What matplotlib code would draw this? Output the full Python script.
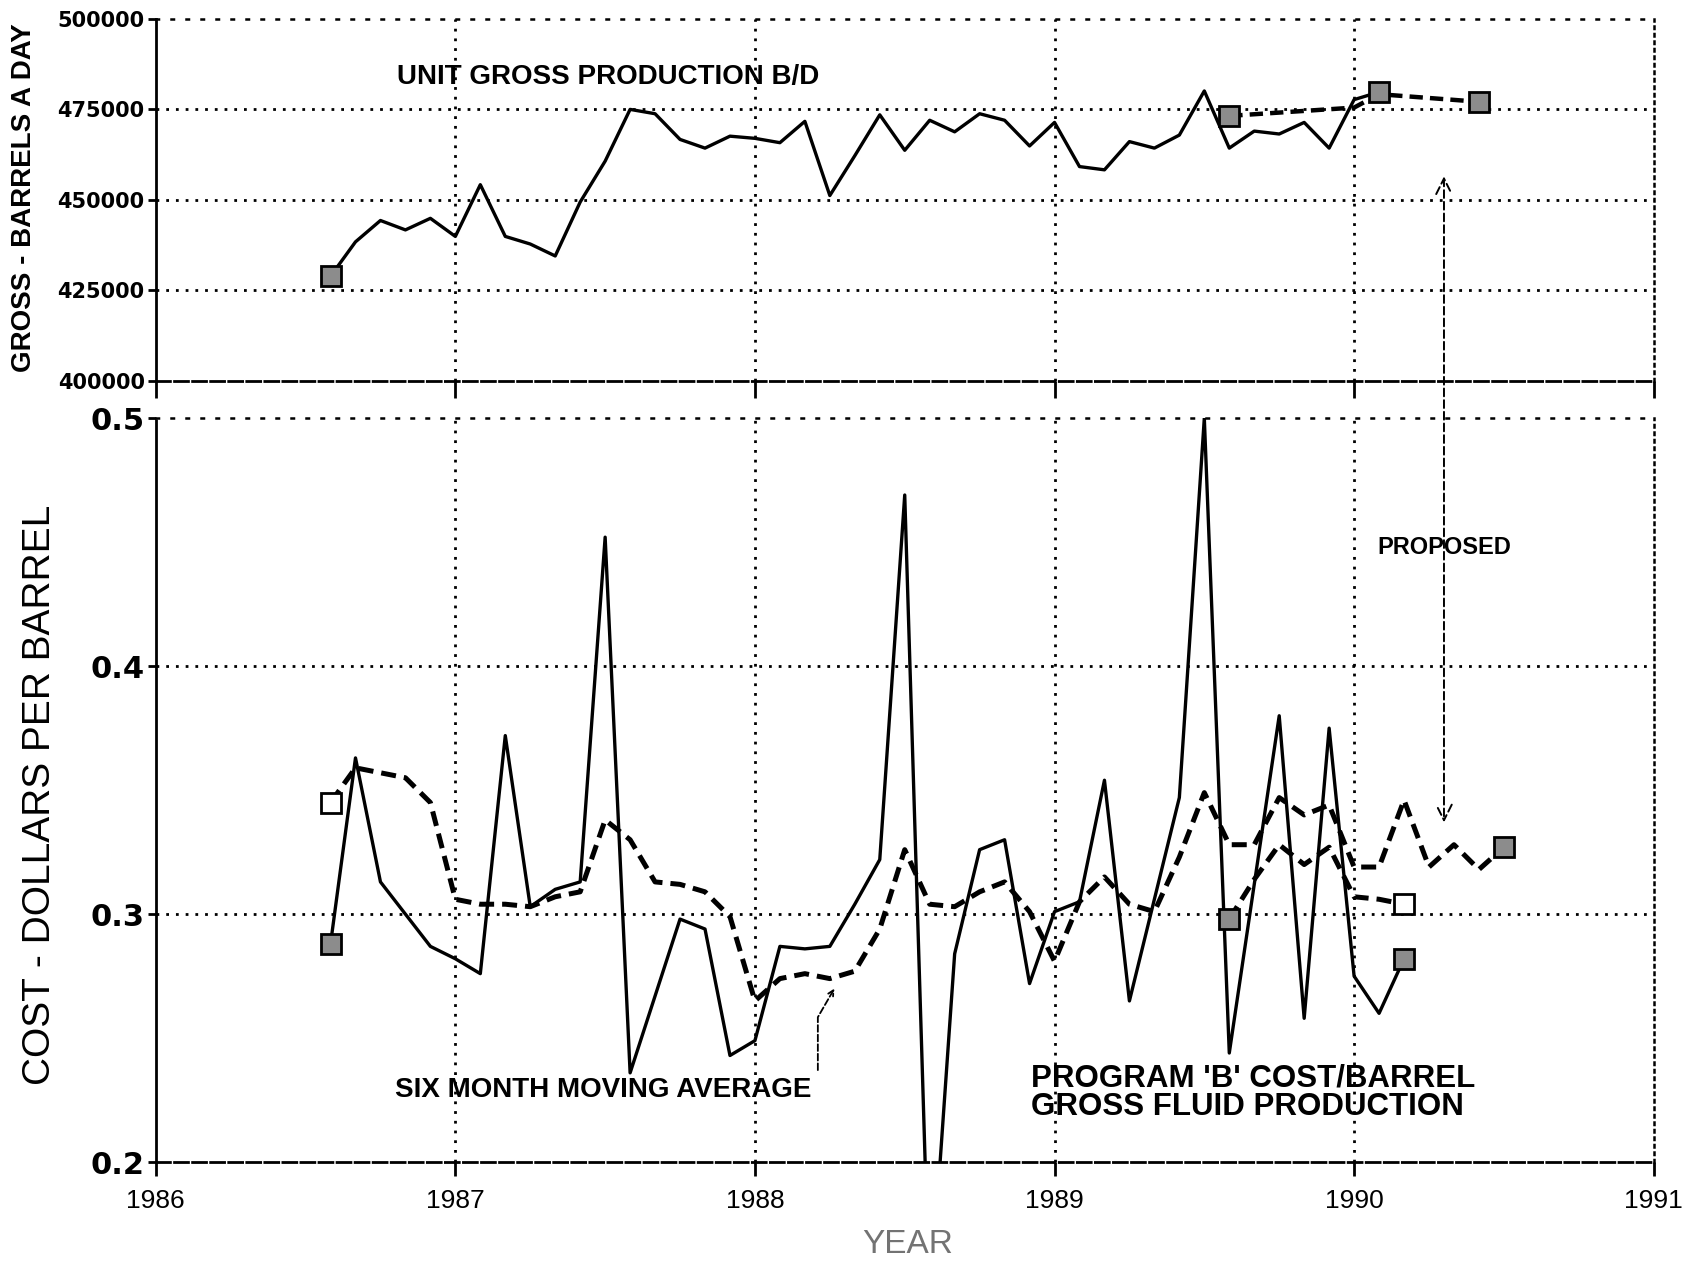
import numpy as np
import pandas as pd
import matplotlib
matplotlib.use("Agg")
import matplotlib.pyplot as plt
from matplotlib.patches import ConnectionPatch

# monthly data, first month Aug 1986
start_month = "1986-08"

gross_bpd = [428900, 438400, 444300, 441700, 444900, 439900, 454200, 439900,
             437800, 434500, 449400, 460700, 475000, 473800, 466700, 464300,
             467600, 467000, 465800, 471700, 451200, 462200, 473500, 463700,
             472000, 468800, 473800, 472000, 464900, 471400, 459200, 458300,
             466100, 464300, 467900, 480100, 464300, 469000, 468200, 471400,
             464300, 477700, 479800]

proposed_gross_idx = [36, 41, 42, 46]
proposed_gross = [473200, 475500, 479200, 477100]

cost_per_bbl = [0.288, 0.363, 0.313, 0.300, 0.287, 0.282, 0.276, 0.372,
                0.303, 0.310, 0.313, 0.452, 0.236, 0.267, 0.298, 0.294,
                0.243, 0.249, 0.287, 0.286, 0.287, 0.304, 0.322, 0.469,
                0.140, 0.284, 0.326, 0.330, 0.272, 0.301, 0.305, 0.354,
                0.265, 0.306, 0.347, 0.500, 0.244, 0.312, 0.380, 0.258,
                0.375, 0.275, 0.260, 0.282]

moving_avg = [0.345, 0.359, 0.357, 0.355, 0.345, 0.306, 0.304, 0.304,
              0.303, 0.307, 0.309, 0.338, 0.330, 0.313, 0.312, 0.309,
              0.299, 0.265, 0.274, 0.276, 0.274, 0.277, 0.294, 0.326,
              0.304, 0.303, 0.309, 0.313, 0.301, 0.281, 0.305, 0.315,
              0.304, 0.301, 0.323, 0.349, 0.328, 0.328, 0.347, 0.340,
              0.344, 0.319, 0.319, 0.346, 0.319, 0.328, 0.318, 0.327]

proposed_cost_idx = [36, 37, 38, 39, 40, 41, 42, 43]
proposed_cost = [0.298, 0.314, 0.328, 0.320, 0.327, 0.307, 0.306, 0.304]

year_ticks = [1986, 1987, 1988, 1989, 1990, 1991]
gross_ticks = [400000, 425000, 450000, 475000, 500000]
cost_ticks = [0.2, 0.3, 0.4, 0.5]


def month_pos(n):
    p = pd.period_range(start_month, periods=n, freq="M")
    return np.asarray(p.year + (p.month - 1) / 12.0)


xm = month_pos(48)

plt.rcParams['font.family'] = ['Liberation Sans', 'DejaVu Sans']

fig = plt.figure(figsize=(16.84, 12.61), dpi=100)
ax1 = fig.add_axes([0.0925, 0.698, 0.8895, 0.287])
ax2 = fig.add_axes([0.0925, 0.0784, 0.8895, 0.590])

dots = (0, (1, 2.5))
dash = (0, (3, 1.6))
sq = dict(marker='s', markersize=15, markeredgecolor='black',
          markeredgewidth=2, linestyle='none', zorder=5)

# ---- top panel: gross production
ax1.plot(xm[:len(gross_bpd)], gross_bpd, color='black', lw=2.4, zorder=3)
ax1.plot(xm[proposed_gross_idx], proposed_gross, color='black', lw=3.2,
         linestyle=dash, zorder=3)
ax1.plot([xm[0], xm[len(gross_bpd) - 1]], [gross_bpd[0], gross_bpd[-1]],
         markerfacecolor='0.55', **sq)
ax1.plot(xm[[proposed_gross_idx[0], proposed_gross_idx[-1]]],
         [proposed_gross[0], proposed_gross[-1]], markerfacecolor='0.55', **sq)

for g in gross_ticks[1:-1]:
    ax1.axhline(g, color='black', lw=2, linestyle=dots, zorder=1)
for yr in year_ticks[1:-1]:
    ax1.axvline(yr, color='black', lw=2, linestyle=dots, zorder=1)

ax1.set_xlim(year_ticks[0], year_ticks[-1])
ax1.set_ylim(gross_ticks[0], gross_ticks[-1])
ax1.set_yticks(gross_ticks)
ax1.set_yticklabels([str(g) for g in gross_ticks], family='DejaVu Sans',
                    fontweight='bold', fontsize=15)
ax1.set_xticks(year_ticks)
ax1.tick_params(axis='x', labelbottom=False, direction='out', length=12,
                width=2)
ax1.tick_params(axis='y', direction='out', length=6, width=2, pad=2)

ax1.text(1986.805, 484000, "UNIT GROSS PRODUCTION B/D", fontsize=20,
         fontweight='bold', va='center', ha='left')

# ---- bottom panel: cost per barrel
ax2.plot(xm[:len(cost_per_bbl)], cost_per_bbl, color='black', lw=2.4,
         zorder=3)
ax2.plot(xm[:len(moving_avg)], moving_avg, color='black', lw=3.6,
         linestyle=dash, zorder=3)
ax2.plot(xm[proposed_cost_idx], proposed_cost, color='black', lw=3.6,
         linestyle=dash, zorder=3)

ax2.plot([xm[0], xm[len(cost_per_bbl) - 1]],
         [cost_per_bbl[0], cost_per_bbl[-1]], markerfacecolor='0.55', **sq)
ax2.plot([xm[0]], [moving_avg[0]], markerfacecolor='white', **sq)
ax2.plot([xm[len(moving_avg) - 1]], [moving_avg[-1]],
         markerfacecolor='0.55', **sq)
ax2.plot([xm[proposed_cost_idx[0]]], [proposed_cost[0]],
         markerfacecolor='0.55', **sq)
ax2.plot([xm[proposed_cost_idx[-1]]], [proposed_cost[-1]],
         markerfacecolor='white', **sq)

for c in cost_ticks[1:-1]:
    ax2.axhline(c, color='black', lw=2, linestyle=dots, zorder=1)
for yr in year_ticks[1:-1]:
    ax2.axvline(yr, color='black', lw=2, linestyle=dots, zorder=1)

ax2.set_xlim(year_ticks[0], year_ticks[-1])
ax2.set_ylim(cost_ticks[0], cost_ticks[-1])
ax2.set_yticks(cost_ticks)
ax2.set_yticklabels([str(c) for c in cost_ticks], family='DejaVu Sans',
                    fontweight='bold', fontsize=22)
ax2.set_xticks(year_ticks)
ax2.set_xticklabels([str(y) for y in year_ticks], fontsize=19)
ax2.tick_params(axis='x', direction='out', length=10, width=2, pad=9)
ax2.tick_params(axis='y', direction='out', length=6, width=2, pad=2)

ax2.text(1986.80, 0.229, "SIX MONTH MOVING AVERAGE", fontsize=20,
         fontweight='bold', va='center', ha='left')
ax2.annotate("", xy=(1988.27, 0.271), xytext=(1988.21, 0.236),
             arrowprops=dict(arrowstyle='->', lw=1.3, linestyle='--',
                             color='black',
                             connectionstyle='angle,angleA=90,angleB=60,rad=0'))
ax2.text(1988.923, 0.228, "PROGRAM 'B' COST/BARREL\nGROSS FLUID PRODUCTION",
         fontsize=22.5, fontweight='bold', va='center', ha='left',
         linespacing=0.95)
ax2.text(1990.30, 0.448, "PROPOSED", fontsize=17, fontweight='bold',
         va='center', ha='center', zorder=6,
         bbox=dict(facecolor='white', edgecolor='none', pad=2))

# spines
for ax in (ax1, ax2):
    ax.spines['left'].set_linestyle((0, (3, 1)))
    ax.spines['left'].set_linewidth(2)
    ax.spines['bottom'].set_linestyle((0, (5, 1.5)))
    ax.spines['bottom'].set_linewidth(2)
    ax.spines['right'].set_linestyle((0, (1, 2)))
    ax.spines['right'].set_linewidth(1.8)
    ax.spines['top'].set_linestyle((0, (1, 5)))
    ax.spines['top'].set_linewidth(1.8)

# proposed arrow spanning both panels
con = ConnectionPatch(xyA=(1990.30, 456500), coordsA=ax1.transData,
                      xyB=(1990.30, 0.337), coordsB=ax2.transData,
                      arrowstyle='<->', mutation_scale=28, lw=1.4,
                      linestyle=(0, (4, 2)), color='black', zorder=4)
fig.add_artist(con)

fig.text(0.014, 0.843, "GROSS - BARRELS A DAY", rotation=90, fontsize=20,
         fontweight='bold', ha='center', va='center')
fig.text(0.0236, 0.37, "COST - DOLLARS PER BARREL", rotation=90,
         fontsize=28, ha='center', va='center')
fig.text(0.539, 0.013, "YEAR", fontsize=24, color='0.45', ha='center',
         va='center')

fig.savefig("out.png", dpi=100)
